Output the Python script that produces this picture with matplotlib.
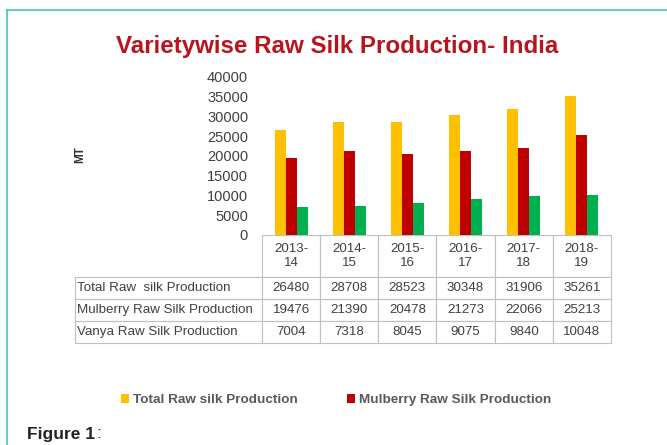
import matplotlib
matplotlib.use("Agg")
import matplotlib.pyplot as plt
from matplotlib.lines import Line2D
import numpy as np

years = ["2013-\n14", "2014-\n15", "2015-\n16", "2016-\n17", "2017-\n18", "2018-\n19"]
series_names = ["Total Raw  silk Production", "Mulberry Raw Silk Production", "Vanya Raw Silk Production"]
legend_names = ["Total Raw silk Production", "Mulberry Raw Silk Production"]
total = [26480, 28708, 28523, 30348, 31906, 35261]
mulberry = [19476, 21390, 20478, 21273, 22066, 25213]
vanya = [7004, 7318, 8045, 9075, 9840, 10048]
colors = ["#FFC000", "#C00000", "#00B050"]

plt.rcParams["font.family"] = ["Liberation Sans", "DejaVu Sans"]

W, H = 667, 445
fig = plt.figure(figsize=(W / 100, H / 100), dpi=100)

# teal frame
fig.add_artist(Line2D([7 / W, 7 / W], [0, 1 - 10 / H], color="#3EC7B0", lw=1.2))
fig.add_artist(Line2D([7 / W, 1], [1 - 10 / H, 1 - 10 / H], color="#3EC7B0", lw=1.2))

ax_l, ax_r, ax_t, ax_b = 262, 611, 77, 235
ax = fig.add_axes([ax_l / W, 1 - ax_b / H, (ax_r - ax_l) / W, (ax_b - ax_t) / H])

x = np.arange(len(years))
bw = 0.19
data = [total, mulberry, vanya]
bars = []
for i, (vals, c) in enumerate(zip(data, colors)):
    b = ax.bar(x + (i - 1) * bw, vals, bw, color=c, label=series_names[i])
    bars.append(b)

ax.set_xlim(-0.5, len(years) - 0.5)
ax.set_ylim(0, 40000)
ax.set_yticks(np.arange(0, 40001, 5000))
ax.set_xticks([])
ax.tick_params(axis="y", length=0, pad=10, labelsize=10.5, labelcolor="#404040")
for s in ax.spines.values():
    s.set_visible(False)

# data table below the bars
axw = ax_r - ax_l
axh = ax_b - ax_t
rows = [[n] + [str(v) for v in vals] for n, vals in zip(series_names, data)]
tab = ax.table(cellText=rows, colLabels=[""] + years, cellLoc="center",
               bbox=[(75 - ax_l) / axw, -(343 - ax_b) / axh, (ax_r - 75) / axw, (343 - ax_b) / axh])
tab.auto_set_font_size(False)
col_w = [187] + [(ax_r - ax_l) / len(years)] * len(years)
row_h = [42, 22, 22, 22]
for (r, c), cell in tab.get_celld().items():
    cell.set_width(col_w[c])
    cell.set_height(row_h[r])
    cell.set_edgecolor("#BFBFBF")
    cell.set_linewidth(0.8)
    cell.get_text().set_fontsize(9.6)
    cell.get_text().set_color("#404040")
    if c == 0:
        cell._loc = "left"
        cell.PAD = 0.012
        cell.get_text().set_ha("left")
    if r == 0 and c == 0:
        cell.visible_edges = ""

fig.text(80 / W, 1 - 155 / H, "MT", rotation=90, fontsize=8.5, fontweight="bold",
         color="#333333", ha="center", va="center")

fig.text(337 / W, 1 - 46 / H, "Varietywise Raw Silk Production- India", fontsize=17.4,
         fontweight="bold", color="#B8141E", ha="center", va="center")

leg = fig.legend([bars[0], bars[1]], legend_names, loc="center", ncol=2,
                 bbox_to_anchor=(336 / W, 1 - 400 / H), frameon=False,
                 handlelength=0.6, handleheight=0.6, handletextpad=0.3,
                 columnspacing=3.6, prop={"size": 9.7, "weight": "bold"})
for t in leg.get_texts():
    t.set_color("#595959")

ft = fig.text(27 / W, 1 - 434 / H, "Figure 1", fontsize=12.5, fontweight="bold",
              color="#222222", ha="left", va="center")
fig.canvas.draw()
ext = ft.get_window_extent()
fig.text(ext.x1 / W + 1 / W, 1 - 434 / H, ":", fontsize=12.5, color="#222222",
         ha="left", va="center")

fig.savefig("out.png", dpi=100)
